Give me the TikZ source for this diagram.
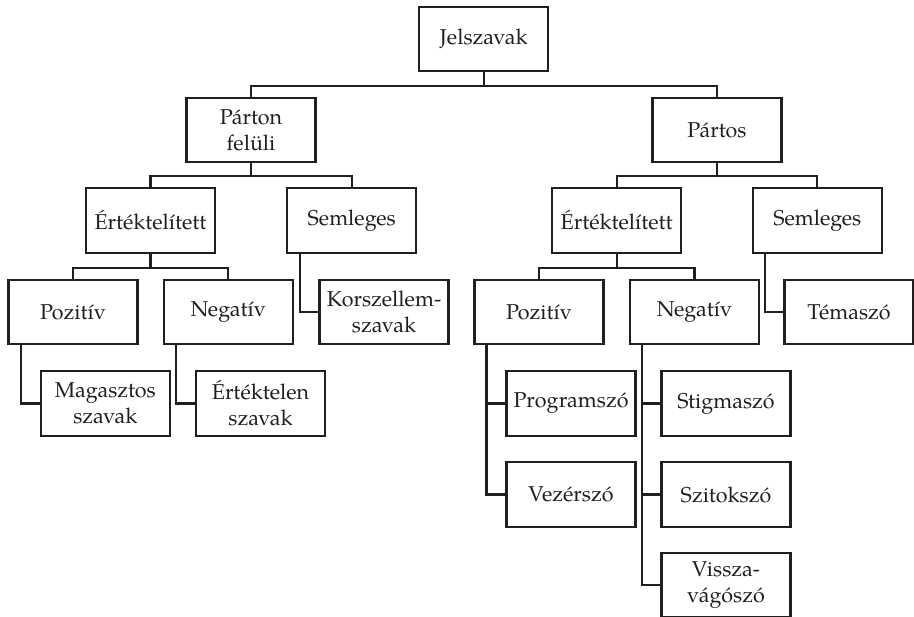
\documentclass[tikz,border=0pt]{standalone}
\usepackage{fontspec}
\setmainfont{TeX Gyre Pagella}
\begin{document}
\begin{tikzpicture}[x=1pt,y=-1pt,
  box/.style={draw=black!88,line width=2.1pt,minimum width=129pt,minimum height=64.5pt,inner sep=0pt,align=center,font=\fontsize{21.5}{26}\selectfont,text=black!88},
  conn/.style={draw=black!88,line width=2.1pt}]
\useasboundingbox (0,0) rectangle (914,617);
\node[box] (J) at (483.7,39) {Jelszavak};
\node[box] (PF) at (251,130) {Párton\\felüli};
\node[box] (P) at (717,130) {Pártos};
\node[box] (E1) at (150.5,220.5) {Értéktelített};
\node[box] (S1) at (351.7,220.5) {Semleges};
\node[box] (Poz1) at (73,312) {Pozitív};
\node[box] (Neg1) at (228.3,312) {Negatív};
\node[box] (K) at (384,312) {Korszellem-\\szavak};
\node[box] (M) at (105.3,403.5) {Magasztos\\szavak};
\node[box] (Et) at (260.5,403.5) {Értéktelen\\szavak};
\node[box] (E2) at (616.7,220.5) {Értéktelített};
\node[box] (S2) at (817.3,220.5) {Semleges};
\node[box] (Poz2) at (539,312) {Pozitív};
\node[box] (Neg2) at (694.5,312) {Negatív};
\node[box] (T) at (849,312) {Témaszó};
\node[box] (Pr) at (571,403.5) {Programszó};
\node[box] (St) at (726,403.5) {Stigmaszó};
\node[box] (V) at (571,494.5) {Vezérszó};
\node[box] (Sz) at (726,494.5) {Szitokszó};
\node[box] (Vi) at (726,585) {Vissza-\\vágószó};
% tree buses
\draw[conn] (J.south) -- ++(0,-13.3pt) -| (PF.north);
\draw[conn] (J.south) -- ++(0,-13.3pt) -| (P.north);
\draw[conn] (PF.south) -- ++(0,-13pt) -| (E1.north);
\draw[conn] (PF.south) -- ++(0,-13pt) -| (S1.north);
\draw[conn] (P.south) -- ++(0,-13pt) -| (E2.north);
\draw[conn] (P.south) -- ++(0,-13pt) -| (S2.north);
\draw[conn] (E1.south) -- ++(0,-14pt) -| (Poz1.north);
\draw[conn] (E1.south) -- ++(0,-14pt) -| (Neg1.north);
\draw[conn] (E2.south) -- ++(0,-14pt) -| (Poz2.north);
\draw[conn] (E2.south) -- ++(0,-14pt) -| (Neg2.north);
% elbows
\draw[conn] ([xshift=13.4pt]S1.south west) |- (K.west);
\draw[conn] ([xshift=13.4pt]S2.south west) |- (T.west);
\draw[conn] ([xshift=13.4pt]Poz1.south west) |- (M.west);
\draw[conn] ([xshift=13.4pt]Neg1.south west) |- (Et.west);
\draw[conn] ([xshift=13pt]Poz2.south west) |- (V.west);
\draw[conn] ([xshift=13pt]Poz2.south west) |- (Pr.west);
\draw[conn] ([xshift=13.3pt]Neg2.south west) |- (Vi.west);
\draw[conn] ([xshift=13.3pt]Neg2.south west) |- (St.west);
\draw[conn] ([xshift=13.3pt]Neg2.south west) |- (Sz.west);
\end{tikzpicture}
\end{document}
